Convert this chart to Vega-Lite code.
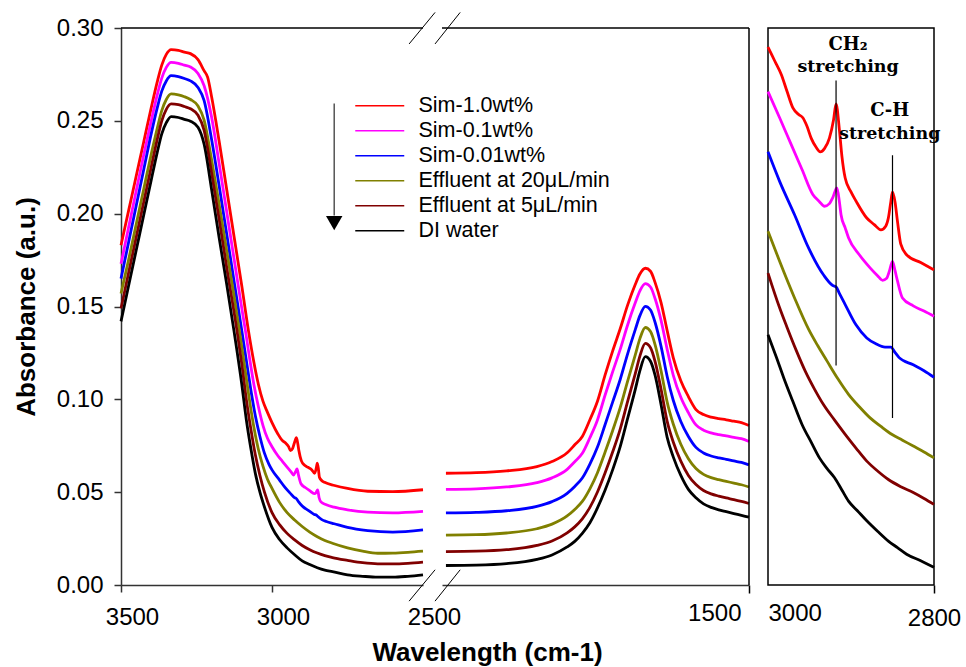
{
  "$schema": "https://vega.github.io/schema/vega-lite/v6.json",
  "padding": {"left": 13, "top": 11, "right": 2, "bottom": 2},
  "background": "white",
  "bounds": "flush",
  "spacing": 19,
  "config": {
    "font": "Liberation Sans",
    "view": {"stroke": null},
    "axis": {"labelFont": "Liberation Sans", "labelFontSize": 24, "labelColor": "black", "titleFont": "Liberation Sans", "titleFontSize": 26, "titleFontWeight": "bold", "titleColor": "black", "domainColor": "#333333", "domainWidth": 1.5, "tickColor": "#333333", "tickWidth": 1.5, "tickSize": 7, "grid": false, "labelFlush": false, "labelOverlap": false}
  },
  "resolve": {"scale": {"color": "independent"}, "legend": {"color": "independent"}},
  "datasets": {
    "main": [
      {"series":"Sim-1.0wt%","seg":"L","wn":3500,"abs":0.183},{"series":"Sim-1.0wt%","seg":"L","wn":3475,"abs":0.2015},{"series":"Sim-1.0wt%","seg":"L","wn":3450,"abs":0.22},{"series":"Sim-1.0wt%","seg":"L","wn":3425,"abs":0.2385},{"series":"Sim-1.0wt%","seg":"L","wn":3400,"abs":0.257},{"series":"Sim-1.0wt%","seg":"L","wn":3380,"abs":0.271},{"series":"Sim-1.0wt%","seg":"L","wn":3365,"abs":0.28},{"series":"Sim-1.0wt%","seg":"L","wn":3350,"abs":0.2858},{"series":"Sim-1.0wt%","seg":"L","wn":3334,"abs":0.2884},{"series":"Sim-1.0wt%","seg":"L","wn":3310,"abs":0.288},{"series":"Sim-1.0wt%","seg":"L","wn":3290,"abs":0.287},{"series":"Sim-1.0wt%","seg":"L","wn":3270,"abs":0.2862},{"series":"Sim-1.0wt%","seg":"L","wn":3245,"abs":0.283},{"series":"Sim-1.0wt%","seg":"L","wn":3225,"abs":0.277},{"series":"Sim-1.0wt%","seg":"L","wn":3213,"abs":0.2734},{"series":"Sim-1.0wt%","seg":"L","wn":3200,"abs":0.263},{"series":"Sim-1.0wt%","seg":"L","wn":3175,"abs":0.239},{"series":"Sim-1.0wt%","seg":"L","wn":3150,"abs":0.213},{"series":"Sim-1.0wt%","seg":"L","wn":3125,"abs":0.187},{"series":"Sim-1.0wt%","seg":"L","wn":3100,"abs":0.161},{"series":"Sim-1.0wt%","seg":"L","wn":3078,"abs":0.137},{"series":"Sim-1.0wt%","seg":"L","wn":3060,"abs":0.12},{"series":"Sim-1.0wt%","seg":"L","wn":3045,"abs":0.108},{"series":"Sim-1.0wt%","seg":"L","wn":3030,"abs":0.099},{"series":"Sim-1.0wt%","seg":"L","wn":3015,"abs":0.093},{"series":"Sim-1.0wt%","seg":"L","wn":3000,"abs":0.0875},{"series":"Sim-1.0wt%","seg":"L","wn":2981,"abs":0.0815},{"series":"Sim-1.0wt%","seg":"L","wn":2967,"abs":0.078},{"series":"Sim-1.0wt%","seg":"L","wn":2955,"abs":0.0765},{"series":"Sim-1.0wt%","seg":"L","wn":2945,"abs":0.0745},{"series":"Sim-1.0wt%","seg":"L","wn":2939,"abs":0.0724},{"series":"Sim-1.0wt%","seg":"L","wn":2932,"abs":0.0735},{"series":"Sim-1.0wt%","seg":"L","wn":2926,"abs":0.0765},{"series":"Sim-1.0wt%","seg":"L","wn":2919,"abs":0.0793},{"series":"Sim-1.0wt%","seg":"L","wn":2914,"abs":0.0755},{"series":"Sim-1.0wt%","seg":"L","wn":2911,"abs":0.0724},{"series":"Sim-1.0wt%","seg":"L","wn":2903,"abs":0.067},{"series":"Sim-1.0wt%","seg":"L","wn":2892,"abs":0.0645},{"series":"Sim-1.0wt%","seg":"L","wn":2881,"abs":0.0634},{"series":"Sim-1.0wt%","seg":"L","wn":2868,"abs":0.062},{"series":"Sim-1.0wt%","seg":"L","wn":2859,"abs":0.0602},{"series":"Sim-1.0wt%","seg":"L","wn":2854,"abs":0.0625},{"series":"Sim-1.0wt%","seg":"L","wn":2850,"abs":0.0656},{"series":"Sim-1.0wt%","seg":"L","wn":2846,"abs":0.062},{"series":"Sim-1.0wt%","seg":"L","wn":2843,"abs":0.058},{"series":"Sim-1.0wt%","seg":"L","wn":2835,"abs":0.0562},{"series":"Sim-1.0wt%","seg":"L","wn":2826,"abs":0.0553},{"series":"Sim-1.0wt%","seg":"L","wn":2793,"abs":0.0536},{"series":"Sim-1.0wt%","seg":"L","wn":2750,"abs":0.052},{"series":"Sim-1.0wt%","seg":"L","wn":2683,"abs":0.0505},{"series":"Sim-1.0wt%","seg":"L","wn":2600,"abs":0.0503},{"series":"Sim-1.0wt%","seg":"L","wn":2500,"abs":0.0513},
      {"series":"Sim-0.1wt%","seg":"L","wn":3500,"abs":0.173},{"series":"Sim-0.1wt%","seg":"L","wn":3475,"abs":0.1925},{"series":"Sim-0.1wt%","seg":"L","wn":3450,"abs":0.212},{"series":"Sim-0.1wt%","seg":"L","wn":3425,"abs":0.2315},{"series":"Sim-0.1wt%","seg":"L","wn":3400,"abs":0.25},{"series":"Sim-0.1wt%","seg":"L","wn":3380,"abs":0.264},{"series":"Sim-0.1wt%","seg":"L","wn":3365,"abs":0.273},{"series":"Sim-0.1wt%","seg":"L","wn":3350,"abs":0.2788},{"series":"Sim-0.1wt%","seg":"L","wn":3334,"abs":0.2815},{"series":"Sim-0.1wt%","seg":"L","wn":3310,"abs":0.281},{"series":"Sim-0.1wt%","seg":"L","wn":3290,"abs":0.28},{"series":"Sim-0.1wt%","seg":"L","wn":3270,"abs":0.279},{"series":"Sim-0.1wt%","seg":"L","wn":3245,"abs":0.2755},{"series":"Sim-0.1wt%","seg":"L","wn":3225,"abs":0.269},{"series":"Sim-0.1wt%","seg":"L","wn":3200,"abs":0.252},{"series":"Sim-0.1wt%","seg":"L","wn":3175,"abs":0.227},{"series":"Sim-0.1wt%","seg":"L","wn":3150,"abs":0.201},{"series":"Sim-0.1wt%","seg":"L","wn":3125,"abs":0.175},{"series":"Sim-0.1wt%","seg":"L","wn":3100,"abs":0.149},{"series":"Sim-0.1wt%","seg":"L","wn":3088,"abs":0.137},{"series":"Sim-0.1wt%","seg":"L","wn":3075,"abs":0.123},{"series":"Sim-0.1wt%","seg":"L","wn":3060,"abs":0.108},{"series":"Sim-0.1wt%","seg":"L","wn":3045,"abs":0.096},{"series":"Sim-0.1wt%","seg":"L","wn":3030,"abs":0.086},{"series":"Sim-0.1wt%","seg":"L","wn":3015,"abs":0.079},{"series":"Sim-0.1wt%","seg":"L","wn":3000,"abs":0.0745},{"series":"Sim-0.1wt%","seg":"L","wn":2980,"abs":0.0695},{"series":"Sim-0.1wt%","seg":"L","wn":2965,"abs":0.0665},{"series":"Sim-0.1wt%","seg":"L","wn":2950,"abs":0.0635},{"series":"Sim-0.1wt%","seg":"L","wn":2935,"abs":0.0605},{"series":"Sim-0.1wt%","seg":"L","wn":2929,"abs":0.0592},{"series":"Sim-0.1wt%","seg":"L","wn":2922,"abs":0.061},{"series":"Sim-0.1wt%","seg":"L","wn":2917,"abs":0.0625},{"series":"Sim-0.1wt%","seg":"L","wn":2912,"abs":0.059},{"series":"Sim-0.1wt%","seg":"L","wn":2904,"abs":0.0545},{"series":"Sim-0.1wt%","seg":"L","wn":2890,"abs":0.0525},{"series":"Sim-0.1wt%","seg":"L","wn":2875,"abs":0.0508},{"series":"Sim-0.1wt%","seg":"L","wn":2860,"abs":0.0492},{"series":"Sim-0.1wt%","seg":"L","wn":2854,"abs":0.0498},{"series":"Sim-0.1wt%","seg":"L","wn":2849,"abs":0.0512},{"series":"Sim-0.1wt%","seg":"L","wn":2844,"abs":0.047},{"series":"Sim-0.1wt%","seg":"L","wn":2838,"abs":0.0448},{"series":"Sim-0.1wt%","seg":"L","wn":2820,"abs":0.0432},{"series":"Sim-0.1wt%","seg":"L","wn":2794,"abs":0.0419},{"series":"Sim-0.1wt%","seg":"L","wn":2750,"abs":0.0405},{"series":"Sim-0.1wt%","seg":"L","wn":2683,"abs":0.0392},{"series":"Sim-0.1wt%","seg":"L","wn":2600,"abs":0.0388},{"series":"Sim-0.1wt%","seg":"L","wn":2500,"abs":0.0396},
      {"series":"Sim-0.01wt%","seg":"L","wn":3500,"abs":0.165},{"series":"Sim-0.01wt%","seg":"L","wn":3475,"abs":0.1845},{"series":"Sim-0.01wt%","seg":"L","wn":3450,"abs":0.204},{"series":"Sim-0.01wt%","seg":"L","wn":3425,"abs":0.2235},{"series":"Sim-0.01wt%","seg":"L","wn":3400,"abs":0.243},{"series":"Sim-0.01wt%","seg":"L","wn":3380,"abs":0.257},{"series":"Sim-0.01wt%","seg":"L","wn":3365,"abs":0.266},{"series":"Sim-0.01wt%","seg":"L","wn":3350,"abs":0.2715},{"series":"Sim-0.01wt%","seg":"L","wn":3334,"abs":0.2743},{"series":"Sim-0.01wt%","seg":"L","wn":3310,"abs":0.2738},{"series":"Sim-0.01wt%","seg":"L","wn":3290,"abs":0.2728},{"series":"Sim-0.01wt%","seg":"L","wn":3270,"abs":0.2715},{"series":"Sim-0.01wt%","seg":"L","wn":3245,"abs":0.268},{"series":"Sim-0.01wt%","seg":"L","wn":3225,"abs":0.261},{"series":"Sim-0.01wt%","seg":"L","wn":3200,"abs":0.24},{"series":"Sim-0.01wt%","seg":"L","wn":3175,"abs":0.215},{"series":"Sim-0.01wt%","seg":"L","wn":3150,"abs":0.189},{"series":"Sim-0.01wt%","seg":"L","wn":3125,"abs":0.163},{"series":"Sim-0.01wt%","seg":"L","wn":3100,"abs":0.137},{"series":"Sim-0.01wt%","seg":"L","wn":3085,"abs":0.121},{"series":"Sim-0.01wt%","seg":"L","wn":3070,"abs":0.105},{"series":"Sim-0.01wt%","seg":"L","wn":3055,"abs":0.091},{"series":"Sim-0.01wt%","seg":"L","wn":3040,"abs":0.08},{"series":"Sim-0.01wt%","seg":"L","wn":3025,"abs":0.071},{"series":"Sim-0.01wt%","seg":"L","wn":3010,"abs":0.065},{"series":"Sim-0.01wt%","seg":"L","wn":3000,"abs":0.062},{"series":"Sim-0.01wt%","seg":"L","wn":2975,"abs":0.0565},{"series":"Sim-0.01wt%","seg":"L","wn":2959,"abs":0.053},{"series":"Sim-0.01wt%","seg":"L","wn":2940,"abs":0.0495},{"series":"Sim-0.01wt%","seg":"L","wn":2925,"abs":0.047},{"series":"Sim-0.01wt%","seg":"L","wn":2921,"abs":0.0468},{"series":"Sim-0.01wt%","seg":"L","wn":2915,"abs":0.0455},{"series":"Sim-0.01wt%","seg":"L","wn":2900,"abs":0.0425},{"series":"Sim-0.01wt%","seg":"L","wn":2880,"abs":0.0402},{"series":"Sim-0.01wt%","seg":"L","wn":2860,"abs":0.038},{"series":"Sim-0.01wt%","seg":"L","wn":2853,"abs":0.0376},{"series":"Sim-0.01wt%","seg":"L","wn":2849,"abs":0.037},{"series":"Sim-0.01wt%","seg":"L","wn":2835,"abs":0.0352},{"series":"Sim-0.01wt%","seg":"L","wn":2820,"abs":0.0342},{"series":"Sim-0.01wt%","seg":"L","wn":2794,"abs":0.033},{"series":"Sim-0.01wt%","seg":"L","wn":2750,"abs":0.031},{"series":"Sim-0.01wt%","seg":"L","wn":2683,"abs":0.0293},{"series":"Sim-0.01wt%","seg":"L","wn":2600,"abs":0.0285},{"series":"Sim-0.01wt%","seg":"L","wn":2500,"abs":0.0297},
      {"series":"Effluent at 20μL/min","seg":"L","wn":3500,"abs":0.157},{"series":"Effluent at 20μL/min","seg":"L","wn":3475,"abs":0.175},{"series":"Effluent at 20μL/min","seg":"L","wn":3450,"abs":0.194},{"series":"Effluent at 20μL/min","seg":"L","wn":3425,"abs":0.213},{"series":"Effluent at 20μL/min","seg":"L","wn":3400,"abs":0.232},{"series":"Effluent at 20μL/min","seg":"L","wn":3380,"abs":0.246},{"series":"Effluent at 20μL/min","seg":"L","wn":3365,"abs":0.2555},{"series":"Effluent at 20μL/min","seg":"L","wn":3350,"abs":0.2615},{"series":"Effluent at 20μL/min","seg":"L","wn":3334,"abs":0.2645},{"series":"Effluent at 20μL/min","seg":"L","wn":3310,"abs":0.264},{"series":"Effluent at 20μL/min","seg":"L","wn":3290,"abs":0.263},{"series":"Effluent at 20μL/min","seg":"L","wn":3270,"abs":0.2615},{"series":"Effluent at 20μL/min","seg":"L","wn":3245,"abs":0.258},{"series":"Effluent at 20μL/min","seg":"L","wn":3225,"abs":0.2505},{"series":"Effluent at 20μL/min","seg":"L","wn":3200,"abs":0.229},{"series":"Effluent at 20μL/min","seg":"L","wn":3175,"abs":0.205},{"series":"Effluent at 20μL/min","seg":"L","wn":3150,"abs":0.18},{"series":"Effluent at 20μL/min","seg":"L","wn":3125,"abs":0.155},{"series":"Effluent at 20μL/min","seg":"L","wn":3108,"abs":0.137},{"series":"Effluent at 20μL/min","seg":"L","wn":3090,"abs":0.117},{"series":"Effluent at 20μL/min","seg":"L","wn":3075,"abs":0.1},{"series":"Effluent at 20μL/min","seg":"L","wn":3060,"abs":0.085},{"series":"Effluent at 20μL/min","seg":"L","wn":3045,"abs":0.073},{"series":"Effluent at 20μL/min","seg":"L","wn":3030,"abs":0.064},{"series":"Effluent at 20μL/min","seg":"L","wn":3015,"abs":0.057},{"series":"Effluent at 20μL/min","seg":"L","wn":3000,"abs":0.052},{"series":"Effluent at 20μL/min","seg":"L","wn":2975,"abs":0.0445},{"series":"Effluent at 20μL/min","seg":"L","wn":2950,"abs":0.039},{"series":"Effluent at 20μL/min","seg":"L","wn":2925,"abs":0.035},{"series":"Effluent at 20μL/min","seg":"L","wn":2900,"abs":0.0315},{"series":"Effluent at 20μL/min","seg":"L","wn":2875,"abs":0.0285},{"series":"Effluent at 20μL/min","seg":"L","wn":2850,"abs":0.026},{"series":"Effluent at 20μL/min","seg":"L","wn":2825,"abs":0.024},{"series":"Effluent at 20μL/min","seg":"L","wn":2800,"abs":0.0225},{"series":"Effluent at 20μL/min","seg":"L","wn":2750,"abs":0.02},{"series":"Effluent at 20μL/min","seg":"L","wn":2700,"abs":0.0182},{"series":"Effluent at 20μL/min","seg":"L","wn":2650,"abs":0.0171},{"series":"Effluent at 20μL/min","seg":"L","wn":2600,"abs":0.0172},{"series":"Effluent at 20μL/min","seg":"L","wn":2550,"abs":0.0176},{"series":"Effluent at 20μL/min","seg":"L","wn":2500,"abs":0.0182},
      {"series":"Effluent at 5μL/min","seg":"L","wn":3500,"abs":0.149},{"series":"Effluent at 5μL/min","seg":"L","wn":3475,"abs":0.168},{"series":"Effluent at 5μL/min","seg":"L","wn":3450,"abs":0.187},{"series":"Effluent at 5μL/min","seg":"L","wn":3425,"abs":0.206},{"series":"Effluent at 5μL/min","seg":"L","wn":3400,"abs":0.225},{"series":"Effluent at 5μL/min","seg":"L","wn":3380,"abs":0.24},{"series":"Effluent at 5μL/min","seg":"L","wn":3365,"abs":0.25},{"series":"Effluent at 5μL/min","seg":"L","wn":3350,"abs":0.2562},{"series":"Effluent at 5μL/min","seg":"L","wn":3334,"abs":0.2591},{"series":"Effluent at 5μL/min","seg":"L","wn":3310,"abs":0.2587},{"series":"Effluent at 5μL/min","seg":"L","wn":3290,"abs":0.2577},{"series":"Effluent at 5μL/min","seg":"L","wn":3270,"abs":0.2565},{"series":"Effluent at 5μL/min","seg":"L","wn":3245,"abs":0.253},{"series":"Effluent at 5μL/min","seg":"L","wn":3225,"abs":0.245},{"series":"Effluent at 5μL/min","seg":"L","wn":3200,"abs":0.222},{"series":"Effluent at 5μL/min","seg":"L","wn":3175,"abs":0.197},{"series":"Effluent at 5μL/min","seg":"L","wn":3150,"abs":0.171},{"series":"Effluent at 5μL/min","seg":"L","wn":3116,"abs":0.137},{"series":"Effluent at 5μL/min","seg":"L","wn":3100,"abs":0.119},{"series":"Effluent at 5μL/min","seg":"L","wn":3085,"abs":0.1},{"series":"Effluent at 5μL/min","seg":"L","wn":3070,"abs":0.084},{"series":"Effluent at 5μL/min","seg":"L","wn":3055,"abs":0.07},{"series":"Effluent at 5μL/min","seg":"L","wn":3040,"abs":0.059},{"series":"Effluent at 5μL/min","seg":"L","wn":3025,"abs":0.05},{"series":"Effluent at 5μL/min","seg":"L","wn":3000,"abs":0.039},{"series":"Effluent at 5μL/min","seg":"L","wn":2975,"abs":0.0325},{"series":"Effluent at 5μL/min","seg":"L","wn":2950,"abs":0.0278},{"series":"Effluent at 5μL/min","seg":"L","wn":2925,"abs":0.0243},{"series":"Effluent at 5μL/min","seg":"L","wn":2900,"abs":0.0213},{"series":"Effluent at 5μL/min","seg":"L","wn":2875,"abs":0.019},{"series":"Effluent at 5μL/min","seg":"L","wn":2850,"abs":0.0172},{"series":"Effluent at 5μL/min","seg":"L","wn":2825,"abs":0.0158},{"series":"Effluent at 5μL/min","seg":"L","wn":2800,"abs":0.0148},{"series":"Effluent at 5μL/min","seg":"L","wn":2750,"abs":0.0133},{"series":"Effluent at 5μL/min","seg":"L","wn":2700,"abs":0.012},{"series":"Effluent at 5μL/min","seg":"L","wn":2650,"abs":0.0114},{"series":"Effluent at 5μL/min","seg":"L","wn":2600,"abs":0.0114},{"series":"Effluent at 5μL/min","seg":"L","wn":2550,"abs":0.0117},{"series":"Effluent at 5μL/min","seg":"L","wn":2500,"abs":0.0123},
      {"series":"DI water","seg":"L","wn":3500,"abs":0.142},{"series":"DI water","seg":"L","wn":3475,"abs":0.161},{"series":"DI water","seg":"L","wn":3450,"abs":0.18},{"series":"DI water","seg":"L","wn":3425,"abs":0.199},{"series":"DI water","seg":"L","wn":3400,"abs":0.218},{"series":"DI water","seg":"L","wn":3380,"abs":0.233},{"series":"DI water","seg":"L","wn":3365,"abs":0.243},{"series":"DI water","seg":"L","wn":3350,"abs":0.249},{"series":"DI water","seg":"L","wn":3334,"abs":0.2523},{"series":"DI water","seg":"L","wn":3310,"abs":0.2518},{"series":"DI water","seg":"L","wn":3290,"abs":0.2508},{"series":"DI water","seg":"L","wn":3270,"abs":0.2498},{"series":"DI water","seg":"L","wn":3245,"abs":0.2465},{"series":"DI water","seg":"L","wn":3225,"abs":0.2375},{"series":"DI water","seg":"L","wn":3200,"abs":0.213},{"series":"DI water","seg":"L","wn":3175,"abs":0.187},{"series":"DI water","seg":"L","wn":3150,"abs":0.162},{"series":"DI water","seg":"L","wn":3126,"abs":0.137},{"series":"DI water","seg":"L","wn":3100,"abs":0.108},{"series":"DI water","seg":"L","wn":3085,"abs":0.089},{"series":"DI water","seg":"L","wn":3070,"abs":0.0735},{"series":"DI water","seg":"L","wn":3055,"abs":0.06},{"series":"DI water","seg":"L","wn":3040,"abs":0.05},{"series":"DI water","seg":"L","wn":3025,"abs":0.042},{"series":"DI water","seg":"L","wn":3000,"abs":0.031},{"series":"DI water","seg":"L","wn":2975,"abs":0.0245},{"series":"DI water","seg":"L","wn":2950,"abs":0.02},{"series":"DI water","seg":"L","wn":2925,"abs":0.0163},{"series":"DI water","seg":"L","wn":2900,"abs":0.013},{"series":"DI water","seg":"L","wn":2875,"abs":0.011},{"series":"DI water","seg":"L","wn":2850,"abs":0.0093},{"series":"DI water","seg":"L","wn":2825,"abs":0.008},{"series":"DI water","seg":"L","wn":2800,"abs":0.0072},{"series":"DI water","seg":"L","wn":2750,"abs":0.0055},{"series":"DI water","seg":"L","wn":2700,"abs":0.0047},{"series":"DI water","seg":"L","wn":2650,"abs":0.0042},{"series":"DI water","seg":"L","wn":2600,"abs":0.0042},{"series":"DI water","seg":"L","wn":2550,"abs":0.0047},{"series":"DI water","seg":"L","wn":2500,"abs":0.0055},
      {"series":"Sim-1.0wt%","seg":"R","wn":2500,"abs":0.0602},{"series":"Sim-1.0wt%","seg":"R","wn":2400,"abs":0.0605},{"series":"Sim-1.0wt%","seg":"R","wn":2300,"abs":0.0615},{"series":"Sim-1.0wt%","seg":"R","wn":2200,"abs":0.0638},{"series":"Sim-1.0wt%","seg":"R","wn":2150,"abs":0.0665},{"series":"Sim-1.0wt%","seg":"R","wn":2100,"abs":0.0712},{"series":"Sim-1.0wt%","seg":"R","wn":2075,"abs":0.0755},{"series":"Sim-1.0wt%","seg":"R","wn":2050,"abs":0.08},{"series":"Sim-1.0wt%","seg":"R","wn":2025,"abs":0.089},{"series":"Sim-1.0wt%","seg":"R","wn":2000,"abs":0.099},{"series":"Sim-1.0wt%","seg":"R","wn":1975,"abs":0.113},{"series":"Sim-1.0wt%","seg":"R","wn":1950,"abs":0.126},{"series":"Sim-1.0wt%","seg":"R","wn":1925,"abs":0.138},{"series":"Sim-1.0wt%","seg":"R","wn":1900,"abs":0.151},{"series":"Sim-1.0wt%","seg":"R","wn":1875,"abs":0.162},{"series":"Sim-1.0wt%","seg":"R","wn":1860,"abs":0.1675},{"series":"Sim-1.0wt%","seg":"R","wn":1842,"abs":0.1706},{"series":"Sim-1.0wt%","seg":"R","wn":1825,"abs":0.169},{"series":"Sim-1.0wt%","seg":"R","wn":1810,"abs":0.163},{"series":"Sim-1.0wt%","seg":"R","wn":1790,"abs":0.152},{"series":"Sim-1.0wt%","seg":"R","wn":1770,"abs":0.137},{"series":"Sim-1.0wt%","seg":"R","wn":1750,"abs":0.1225},{"series":"Sim-1.0wt%","seg":"R","wn":1725,"abs":0.11},{"series":"Sim-1.0wt%","seg":"R","wn":1700,"abs":0.1015},{"series":"Sim-1.0wt%","seg":"R","wn":1675,"abs":0.0945},{"series":"Sim-1.0wt%","seg":"R","wn":1650,"abs":0.0918},{"series":"Sim-1.0wt%","seg":"R","wn":1625,"abs":0.0904},{"series":"Sim-1.0wt%","seg":"R","wn":1600,"abs":0.0896},{"series":"Sim-1.0wt%","seg":"R","wn":1575,"abs":0.089},{"series":"Sim-1.0wt%","seg":"R","wn":1550,"abs":0.0882},{"series":"Sim-1.0wt%","seg":"R","wn":1525,"abs":0.0875},{"series":"Sim-1.0wt%","seg":"R","wn":1500,"abs":0.0859},
      {"series":"Sim-0.1wt%","seg":"R","wn":2500,"abs":0.0515},{"series":"Sim-0.1wt%","seg":"R","wn":2400,"abs":0.0518},{"series":"Sim-0.1wt%","seg":"R","wn":2300,"abs":0.0528},{"series":"Sim-0.1wt%","seg":"R","wn":2200,"abs":0.0551},{"series":"Sim-0.1wt%","seg":"R","wn":2150,"abs":0.0577},{"series":"Sim-0.1wt%","seg":"R","wn":2100,"abs":0.0623},{"series":"Sim-0.1wt%","seg":"R","wn":2075,"abs":0.0664},{"series":"Sim-0.1wt%","seg":"R","wn":2050,"abs":0.0709},{"series":"Sim-0.1wt%","seg":"R","wn":2025,"abs":0.0793},{"series":"Sim-0.1wt%","seg":"R","wn":2000,"abs":0.0889},{"series":"Sim-0.1wt%","seg":"R","wn":1975,"abs":0.1022},{"series":"Sim-0.1wt%","seg":"R","wn":1950,"abs":0.1148},{"series":"Sim-0.1wt%","seg":"R","wn":1925,"abs":0.1269},{"series":"Sim-0.1wt%","seg":"R","wn":1900,"abs":0.1403},{"series":"Sim-0.1wt%","seg":"R","wn":1875,"abs":0.1521},{"series":"Sim-0.1wt%","seg":"R","wn":1860,"abs":0.1584},{"series":"Sim-0.1wt%","seg":"R","wn":1842,"abs":0.1623},{"series":"Sim-0.1wt%","seg":"R","wn":1825,"abs":0.1605},{"series":"Sim-0.1wt%","seg":"R","wn":1810,"abs":0.1543},{"series":"Sim-0.1wt%","seg":"R","wn":1790,"abs":0.1424},{"series":"Sim-0.1wt%","seg":"R","wn":1770,"abs":0.1269},{"series":"Sim-0.1wt%","seg":"R","wn":1750,"abs":0.1131},{"series":"Sim-0.1wt%","seg":"R","wn":1725,"abs":0.1011},{"series":"Sim-0.1wt%","seg":"R","wn":1700,"abs":0.0928},{"series":"Sim-0.1wt%","seg":"R","wn":1675,"abs":0.0862},{"series":"Sim-0.1wt%","seg":"R","wn":1650,"abs":0.0834},{"series":"Sim-0.1wt%","seg":"R","wn":1625,"abs":0.0819},{"series":"Sim-0.1wt%","seg":"R","wn":1600,"abs":0.081},{"series":"Sim-0.1wt%","seg":"R","wn":1575,"abs":0.0803},{"series":"Sim-0.1wt%","seg":"R","wn":1550,"abs":0.0795},{"series":"Sim-0.1wt%","seg":"R","wn":1525,"abs":0.0788},{"series":"Sim-0.1wt%","seg":"R","wn":1500,"abs":0.0773},
      {"series":"Sim-0.01wt%","seg":"R","wn":2500,"abs":0.0388},{"series":"Sim-0.01wt%","seg":"R","wn":2400,"abs":0.0391},{"series":"Sim-0.01wt%","seg":"R","wn":2300,"abs":0.04},{"series":"Sim-0.01wt%","seg":"R","wn":2200,"abs":0.0423},{"series":"Sim-0.01wt%","seg":"R","wn":2150,"abs":0.0449},{"series":"Sim-0.01wt%","seg":"R","wn":2100,"abs":0.0494},{"series":"Sim-0.01wt%","seg":"R","wn":2075,"abs":0.0531},{"series":"Sim-0.01wt%","seg":"R","wn":2050,"abs":0.0576},{"series":"Sim-0.01wt%","seg":"R","wn":2025,"abs":0.0651},{"series":"Sim-0.01wt%","seg":"R","wn":2000,"abs":0.0743},{"series":"Sim-0.01wt%","seg":"R","wn":1975,"abs":0.0863},{"series":"Sim-0.01wt%","seg":"R","wn":1950,"abs":0.0985},{"series":"Sim-0.01wt%","seg":"R","wn":1925,"abs":0.1107},{"series":"Sim-0.01wt%","seg":"R","wn":1900,"abs":0.1248},{"series":"Sim-0.01wt%","seg":"R","wn":1875,"abs":0.1377},{"series":"Sim-0.01wt%","seg":"R","wn":1860,"abs":0.1451},{"series":"Sim-0.01wt%","seg":"R","wn":1842,"abs":0.1501},{"series":"Sim-0.01wt%","seg":"R","wn":1825,"abs":0.1481},{"series":"Sim-0.01wt%","seg":"R","wn":1810,"abs":0.1415},{"series":"Sim-0.01wt%","seg":"R","wn":1790,"abs":0.1284},{"series":"Sim-0.01wt%","seg":"R","wn":1770,"abs":0.1123},{"series":"Sim-0.01wt%","seg":"R","wn":1750,"abs":0.0995},{"series":"Sim-0.01wt%","seg":"R","wn":1725,"abs":0.0881},{"series":"Sim-0.01wt%","seg":"R","wn":1700,"abs":0.08},{"series":"Sim-0.01wt%","seg":"R","wn":1675,"abs":0.0741},{"series":"Sim-0.01wt%","seg":"R","wn":1650,"abs":0.0711},{"series":"Sim-0.01wt%","seg":"R","wn":1625,"abs":0.0695},{"series":"Sim-0.01wt%","seg":"R","wn":1600,"abs":0.0685},{"series":"Sim-0.01wt%","seg":"R","wn":1575,"abs":0.0677},{"series":"Sim-0.01wt%","seg":"R","wn":1550,"abs":0.0668},{"series":"Sim-0.01wt%","seg":"R","wn":1525,"abs":0.066},{"series":"Sim-0.01wt%","seg":"R","wn":1500,"abs":0.0647},
      {"series":"Effluent at 20μL/min","seg":"R","wn":2500,"abs":0.0269},{"series":"Effluent at 20μL/min","seg":"R","wn":2400,"abs":0.0271},{"series":"Effluent at 20μL/min","seg":"R","wn":2300,"abs":0.028},{"series":"Effluent at 20μL/min","seg":"R","wn":2200,"abs":0.0303},{"series":"Effluent at 20μL/min","seg":"R","wn":2150,"abs":0.0328},{"series":"Effluent at 20μL/min","seg":"R","wn":2100,"abs":0.0372},{"series":"Effluent at 20μL/min","seg":"R","wn":2075,"abs":0.0407},{"series":"Effluent at 20μL/min","seg":"R","wn":2050,"abs":0.045},{"series":"Effluent at 20μL/min","seg":"R","wn":2025,"abs":0.0518},{"series":"Effluent at 20μL/min","seg":"R","wn":2000,"abs":0.0605},{"series":"Effluent at 20μL/min","seg":"R","wn":1975,"abs":0.0715},{"series":"Effluent at 20μL/min","seg":"R","wn":1950,"abs":0.0831},{"series":"Effluent at 20μL/min","seg":"R","wn":1925,"abs":0.0955},{"series":"Effluent at 20μL/min","seg":"R","wn":1900,"abs":0.1101},{"series":"Effluent at 20μL/min","seg":"R","wn":1875,"abs":0.1241},{"series":"Effluent at 20μL/min","seg":"R","wn":1860,"abs":0.1327},{"series":"Effluent at 20μL/min","seg":"R","wn":1842,"abs":0.1387},{"series":"Effluent at 20μL/min","seg":"R","wn":1825,"abs":0.1365},{"series":"Effluent at 20μL/min","seg":"R","wn":1810,"abs":0.1295},{"series":"Effluent at 20μL/min","seg":"R","wn":1790,"abs":0.1152},{"series":"Effluent at 20μL/min","seg":"R","wn":1770,"abs":0.0985},{"series":"Effluent at 20μL/min","seg":"R","wn":1750,"abs":0.0867},{"series":"Effluent at 20μL/min","seg":"R","wn":1725,"abs":0.0758},{"series":"Effluent at 20μL/min","seg":"R","wn":1700,"abs":0.068},{"series":"Effluent at 20μL/min","seg":"R","wn":1675,"abs":0.0627},{"series":"Effluent at 20μL/min","seg":"R","wn":1650,"abs":0.0596},{"series":"Effluent at 20μL/min","seg":"R","wn":1625,"abs":0.0578},{"series":"Effluent at 20μL/min","seg":"R","wn":1600,"abs":0.0567},{"series":"Effluent at 20μL/min","seg":"R","wn":1575,"abs":0.0558},{"series":"Effluent at 20μL/min","seg":"R","wn":1550,"abs":0.0549},{"series":"Effluent at 20μL/min","seg":"R","wn":1525,"abs":0.054},{"series":"Effluent at 20μL/min","seg":"R","wn":1500,"abs":0.0528},
      {"series":"Effluent at 5μL/min","seg":"R","wn":2500,"abs":0.018},{"series":"Effluent at 5μL/min","seg":"R","wn":2400,"abs":0.0182},{"series":"Effluent at 5μL/min","seg":"R","wn":2300,"abs":0.019},{"series":"Effluent at 5μL/min","seg":"R","wn":2200,"abs":0.0213},{"series":"Effluent at 5μL/min","seg":"R","wn":2150,"abs":0.0237},{"series":"Effluent at 5μL/min","seg":"R","wn":2100,"abs":0.0281},{"series":"Effluent at 5μL/min","seg":"R","wn":2075,"abs":0.0313},{"series":"Effluent at 5μL/min","seg":"R","wn":2050,"abs":0.0356},{"series":"Effluent at 5μL/min","seg":"R","wn":2025,"abs":0.0418},{"series":"Effluent at 5μL/min","seg":"R","wn":2000,"abs":0.0501},{"series":"Effluent at 5μL/min","seg":"R","wn":1975,"abs":0.0603},{"series":"Effluent at 5μL/min","seg":"R","wn":1950,"abs":0.0716},{"series":"Effluent at 5μL/min","seg":"R","wn":1925,"abs":0.084},{"series":"Effluent at 5μL/min","seg":"R","wn":1900,"abs":0.0992},{"series":"Effluent at 5μL/min","seg":"R","wn":1875,"abs":0.114},{"series":"Effluent at 5μL/min","seg":"R","wn":1860,"abs":0.1233},{"series":"Effluent at 5μL/min","seg":"R","wn":1842,"abs":0.1301},{"series":"Effluent at 5μL/min","seg":"R","wn":1825,"abs":0.1278},{"series":"Effluent at 5μL/min","seg":"R","wn":1810,"abs":0.1205},{"series":"Effluent at 5μL/min","seg":"R","wn":1790,"abs":0.1053},{"series":"Effluent at 5μL/min","seg":"R","wn":1770,"abs":0.0881},{"series":"Effluent at 5μL/min","seg":"R","wn":1750,"abs":0.077},{"series":"Effluent at 5μL/min","seg":"R","wn":1725,"abs":0.0667},{"series":"Effluent at 5μL/min","seg":"R","wn":1700,"abs":0.059},{"series":"Effluent at 5μL/min","seg":"R","wn":1675,"abs":0.0541},{"series":"Effluent at 5μL/min","seg":"R","wn":1650,"abs":0.0509},{"series":"Effluent at 5μL/min","seg":"R","wn":1625,"abs":0.0491},{"series":"Effluent at 5μL/min","seg":"R","wn":1600,"abs":0.0479},{"series":"Effluent at 5μL/min","seg":"R","wn":1575,"abs":0.0469},{"series":"Effluent at 5μL/min","seg":"R","wn":1550,"abs":0.046},{"series":"Effluent at 5μL/min","seg":"R","wn":1525,"abs":0.045},{"series":"Effluent at 5μL/min","seg":"R","wn":1500,"abs":0.0439},
      {"series":"DI water","seg":"R","wn":2500,"abs":0.0105},{"series":"DI water","seg":"R","wn":2400,"abs":0.0107},{"series":"DI water","seg":"R","wn":2300,"abs":0.0115},{"series":"DI water","seg":"R","wn":2200,"abs":0.0138},{"series":"DI water","seg":"R","wn":2150,"abs":0.0162},{"series":"DI water","seg":"R","wn":2100,"abs":0.0205},{"series":"DI water","seg":"R","wn":2075,"abs":0.0235},{"series":"DI water","seg":"R","wn":2050,"abs":0.0278},{"series":"DI water","seg":"R","wn":2025,"abs":0.0335},{"series":"DI water","seg":"R","wn":2000,"abs":0.0415},{"series":"DI water","seg":"R","wn":1975,"abs":0.051},{"series":"DI water","seg":"R","wn":1950,"abs":0.062},{"series":"DI water","seg":"R","wn":1925,"abs":0.0745},{"series":"DI water","seg":"R","wn":1900,"abs":0.09},{"series":"DI water","seg":"R","wn":1875,"abs":0.1055},{"series":"DI water","seg":"R","wn":1860,"abs":0.1155},{"series":"DI water","seg":"R","wn":1842,"abs":0.123},{"series":"DI water","seg":"R","wn":1825,"abs":0.1205},{"series":"DI water","seg":"R","wn":1810,"abs":0.113},{"series":"DI water","seg":"R","wn":1790,"abs":0.097},{"series":"DI water","seg":"R","wn":1770,"abs":0.0795},{"series":"DI water","seg":"R","wn":1750,"abs":0.069},{"series":"DI water","seg":"R","wn":1725,"abs":0.059},{"series":"DI water","seg":"R","wn":1700,"abs":0.0515},{"series":"DI water","seg":"R","wn":1675,"abs":0.047},{"series":"DI water","seg":"R","wn":1650,"abs":0.0437},{"series":"DI water","seg":"R","wn":1625,"abs":0.0418},{"series":"DI water","seg":"R","wn":1600,"abs":0.0405},{"series":"DI water","seg":"R","wn":1575,"abs":0.0395},{"series":"DI water","seg":"R","wn":1550,"abs":0.0385},{"series":"DI water","seg":"R","wn":1525,"abs":0.0375},{"series":"DI water","seg":"R","wn":1500,"abs":0.0365}
    ],
    "inset": [
      {"series":"Sim-1.0wt%","wn":3000,"abs":0.0871},{"series":"Sim-1.0wt%","wn":2992,"abs":0.085},{"series":"Sim-1.0wt%","wn":2984,"abs":0.0829},{"series":"Sim-1.0wt%","wn":2977,"abs":0.0803},{"series":"Sim-1.0wt%","wn":2970,"abs":0.0778},{"series":"Sim-1.0wt%","wn":2963,"abs":0.0768},{"series":"Sim-1.0wt%","wn":2958,"abs":0.0763},{"series":"Sim-1.0wt%","wn":2953,"abs":0.075},{"series":"Sim-1.0wt%","wn":2948,"abs":0.0732},{"series":"Sim-1.0wt%","wn":2942,"abs":0.0718},{"series":"Sim-1.0wt%","wn":2937,"abs":0.0711},{"series":"Sim-1.0wt%","wn":2932,"abs":0.0716},{"series":"Sim-1.0wt%","wn":2926,"abs":0.0732},{"series":"Sim-1.0wt%","wn":2921,"abs":0.076},{"series":"Sim-1.0wt%","wn":2918,"abs":0.0784},{"series":"Sim-1.0wt%","wn":2914,"abs":0.0745},{"series":"Sim-1.0wt%","wn":2911,"abs":0.0705},{"series":"Sim-1.0wt%","wn":2907,"abs":0.0671},{"series":"Sim-1.0wt%","wn":2900,"abs":0.065},{"series":"Sim-1.0wt%","wn":2894,"abs":0.0636},{"series":"Sim-1.0wt%","wn":2881,"abs":0.061},{"series":"Sim-1.0wt%","wn":2872,"abs":0.06},{"series":"Sim-1.0wt%","wn":2864,"abs":0.0592},{"series":"Sim-1.0wt%","wn":2858,"abs":0.0598},{"series":"Sim-1.0wt%","wn":2855,"abs":0.061},{"series":"Sim-1.0wt%","wn":2852,"abs":0.0635},{"series":"Sim-1.0wt%","wn":2850,"abs":0.065},{"series":"Sim-1.0wt%","wn":2847,"abs":0.0635},{"series":"Sim-1.0wt%","wn":2844,"abs":0.0605},{"series":"Sim-1.0wt%","wn":2840,"abs":0.057},{"series":"Sim-1.0wt%","wn":2833,"abs":0.0554},{"series":"Sim-1.0wt%","wn":2816,"abs":0.0542},{"series":"Sim-1.0wt%","wn":2800,"abs":0.0531},
      {"series":"Sim-0.1wt%","wn":3000,"abs":0.0803},{"series":"Sim-0.1wt%","wn":2986,"abs":0.0763},{"series":"Sim-0.1wt%","wn":2972,"abs":0.0722},{"series":"Sim-0.1wt%","wn":2959,"abs":0.0684},{"series":"Sim-0.1wt%","wn":2946,"abs":0.0646},{"series":"Sim-0.1wt%","wn":2938,"abs":0.0635},{"series":"Sim-0.1wt%","wn":2932,"abs":0.0628},{"series":"Sim-0.1wt%","wn":2926,"abs":0.0632},{"series":"Sim-0.1wt%","wn":2922,"abs":0.0641},{"series":"Sim-0.1wt%","wn":2917,"abs":0.0656},{"series":"Sim-0.1wt%","wn":2914,"abs":0.0635},{"series":"Sim-0.1wt%","wn":2912,"abs":0.0615},{"series":"Sim-0.1wt%","wn":2907,"abs":0.0595},{"series":"Sim-0.1wt%","wn":2903,"abs":0.058},{"series":"Sim-0.1wt%","wn":2890,"abs":0.0554},{"series":"Sim-0.1wt%","wn":2877,"abs":0.0534},{"series":"Sim-0.1wt%","wn":2868,"abs":0.0522},{"series":"Sim-0.1wt%","wn":2862,"abs":0.0515},{"series":"Sim-0.1wt%","wn":2857,"abs":0.0518},{"series":"Sim-0.1wt%","wn":2854,"abs":0.0528},{"series":"Sim-0.1wt%","wn":2850,"abs":0.0544},{"series":"Sim-0.1wt%","wn":2847,"abs":0.053},{"series":"Sim-0.1wt%","wn":2844,"abs":0.0514},{"series":"Sim-0.1wt%","wn":2838,"abs":0.0488},{"series":"Sim-0.1wt%","wn":2825,"abs":0.0476},{"series":"Sim-0.1wt%","wn":2812,"abs":0.0468},{"series":"Sim-0.1wt%","wn":2800,"abs":0.046},
      {"series":"Sim-0.01wt%","wn":3000,"abs":0.0711},{"series":"Sim-0.01wt%","wn":2986,"abs":0.0666},{"series":"Sim-0.01wt%","wn":2968,"abs":0.0615},{"series":"Sim-0.01wt%","wn":2951,"abs":0.0564},{"series":"Sim-0.01wt%","wn":2933,"abs":0.0523},{"series":"Sim-0.01wt%","wn":2922,"abs":0.0507},{"series":"Sim-0.01wt%","wn":2918,"abs":0.0505},{"series":"Sim-0.01wt%","wn":2914,"abs":0.0495},{"series":"Sim-0.01wt%","wn":2907,"abs":0.0478},{"series":"Sim-0.01wt%","wn":2894,"abs":0.0447},{"series":"Sim-0.01wt%","wn":2881,"abs":0.0427},{"series":"Sim-0.01wt%","wn":2870,"abs":0.0418},{"series":"Sim-0.01wt%","wn":2859,"abs":0.0413},{"series":"Sim-0.01wt%","wn":2852,"abs":0.0413},{"series":"Sim-0.01wt%","wn":2847,"abs":0.0405},{"series":"Sim-0.01wt%","wn":2842,"abs":0.0397},{"series":"Sim-0.01wt%","wn":2825,"abs":0.0386},{"series":"Sim-0.01wt%","wn":2812,"abs":0.0377},{"series":"Sim-0.01wt%","wn":2800,"abs":0.0367},
      {"series":"Effluent at 20μL/min","wn":3000,"abs":0.059},{"series":"Effluent at 20μL/min","wn":2986,"abs":0.0544},{"series":"Effluent at 20μL/min","wn":2968,"abs":0.0488},{"series":"Effluent at 20μL/min","wn":2951,"abs":0.044},{"series":"Effluent at 20μL/min","wn":2940,"abs":0.0415},{"series":"Effluent at 20μL/min","wn":2929,"abs":0.0392},{"series":"Effluent at 20μL/min","wn":2916,"abs":0.0365},{"series":"Effluent at 20μL/min","wn":2903,"abs":0.0341},{"series":"Effluent at 20μL/min","wn":2890,"abs":0.0322},{"series":"Effluent at 20μL/min","wn":2877,"abs":0.0305},{"series":"Effluent at 20μL/min","wn":2864,"abs":0.0292},{"series":"Effluent at 20μL/min","wn":2851,"abs":0.028},{"series":"Effluent at 20μL/min","wn":2838,"abs":0.0271},{"series":"Effluent at 20μL/min","wn":2825,"abs":0.0262},{"series":"Effluent at 20μL/min","wn":2812,"abs":0.0253},{"series":"Effluent at 20μL/min","wn":2800,"abs":0.0244},
      {"series":"Effluent at 5μL/min","wn":3000,"abs":0.0526},{"series":"Effluent at 5μL/min","wn":2986,"abs":0.0473},{"series":"Effluent at 5μL/min","wn":2977,"abs":0.0443},{"series":"Effluent at 5μL/min","wn":2966,"abs":0.0408},{"series":"Effluent at 5μL/min","wn":2955,"abs":0.0376},{"series":"Effluent at 5μL/min","wn":2944,"abs":0.0349},{"series":"Effluent at 5μL/min","wn":2933,"abs":0.0325},{"series":"Effluent at 5μL/min","wn":2920,"abs":0.0302},{"series":"Effluent at 5μL/min","wn":2907,"abs":0.028},{"series":"Effluent at 5μL/min","wn":2894,"abs":0.0259},{"series":"Effluent at 5μL/min","wn":2881,"abs":0.0239},{"series":"Effluent at 5μL/min","wn":2868,"abs":0.0224},{"series":"Effluent at 5μL/min","wn":2855,"abs":0.0211},{"series":"Effluent at 5μL/min","wn":2840,"abs":0.02},{"series":"Effluent at 5μL/min","wn":2825,"abs":0.0191},{"series":"Effluent at 5μL/min","wn":2812,"abs":0.0182},{"series":"Effluent at 5μL/min","wn":2800,"abs":0.0173},
      {"series":"DI water","wn":3000,"abs":0.0432},{"series":"DI water","wn":2990,"abs":0.0398},{"series":"DI water","wn":2981,"abs":0.0366},{"series":"DI water","wn":2970,"abs":0.033},{"series":"DI water","wn":2959,"abs":0.0295},{"series":"DI water","wn":2948,"abs":0.0268},{"series":"DI water","wn":2938,"abs":0.0244},{"series":"DI water","wn":2929,"abs":0.0228},{"series":"DI water","wn":2920,"abs":0.0214},{"series":"DI water","wn":2911,"abs":0.0195},{"series":"DI water","wn":2903,"abs":0.0178},{"series":"DI water","wn":2892,"abs":0.0163},{"series":"DI water","wn":2881,"abs":0.0148},{"series":"DI water","wn":2868,"abs":0.0132},{"series":"DI water","wn":2855,"abs":0.0117},{"series":"DI water","wn":2844,"abs":0.0107},{"series":"DI water","wn":2833,"abs":0.0097},{"series":"DI water","wn":2816,"abs":0.0087},{"series":"DI water","wn":2800,"abs":0.0077}
    ]
  },
  "hconcat": [
    {
      "width": 302,
      "height": 557,
      "layer": [
        {
          "data": {"name": "main"},
          "transform": [{"filter": "datum.seg == 'L'"}],
          "mark": {"type": "line", "strokeWidth": 2.8, "interpolate": "monotone"},
          "encoding": {
            "x": {"field": "wn", "type": "quantitative", "scale": {"domain": [2500, 3500], "reverse": true, "nice": false, "zero": false},
              "axis": {"values": [3500, 3000, 2500], "format": "d", "title": "Wavelength (cm-1)", "labelOffset": 11, "labelPadding": 13,
                "tickColor": {"condition": {"test": "datum.value == 2500", "value": "transparent"}, "value": "#333333"},
                "titleX": 366, "titleY": 75, "titleAlign": "center", "titleBaseline": "alphabetic", "titleAnchor": null}},
            "y": {"field": "abs", "type": "quantitative", "scale": {"domain": [0, 0.3], "nice": false, "zero": false},
              "axis": {"values": [0, 0.05, 0.1, 0.15, 0.2, 0.25, 0.3], "format": ".2f", "title": "Absorbance (a.u.)", "labelPadding": 11,
                "titleX": -87, "titleY": 278.5, "titleAngle": 270, "titleAlign": "center", "titleBaseline": "alphabetic"}},
            "color": {"field": "series", "type": "nominal",
              "scale": {"domain": ["Sim-1.0wt%", "Sim-0.1wt%", "Sim-0.01wt%", "Effluent at 20μL/min", "Effluent at 5μL/min", "DI water"], "range": ["#ff0000", "#ff00ff", "#0000ff", "#808000", "#800000", "#000000"]},
              "legend": {"orient": "none", "legendX": 248, "legendY": 67, "title": null, "symbolType": "M-5,0H5", "symbolSize": 96, "symbolStrokeWidth": 1.5, "labelFontSize": 21.5, "labelFont": "Liberation Sans", "labelColor": "black", "labelOffset": 28, "labelLimit": 400, "rowPadding": 2, "padding": 0}},
            "order": {"field": "wn", "sort": "descending"}
          }
        },
        {"data": {"values": [{}]}, "mark": {"type": "rule", "color": "black", "strokeWidth": 1.5}, "encoding": {"y": {"datum": 0.3}}},
        {"data": {"values": [{}]}, "mark": {"type": "rule", "color": "black", "strokeWidth": 1}, "encoding": {"x": {"datum": 2546}, "x2": {"datum": 2460}, "y": {"datum": 0.2914}, "y2": {"datum": 0.3084}}},
        {"data": {"values": [{}]}, "mark": {"type": "rule", "color": "black", "strokeWidth": 1}, "encoding": {"x": {"datum": 2546}, "x2": {"datum": 2460}, "y": {"datum": -0.0087}, "y2": {"datum": 0.0082}}},
        {"data": {"values": [{}]}, "mark": {"type": "rule", "color": "#555555", "strokeWidth": 1.5}, "encoding": {"x": {"datum": 2794}, "y": {"datum": 0.2594}, "y2": {"datum": 0.199}}},
        {"data": {"values": [{}]}, "mark": {"type": "point", "shape": "triangle-down", "filled": true, "color": "black", "size": 270, "opacity": 1}, "encoding": {"x": {"datum": 2794}, "y": {"datum": 0.1949}}}
      ]
    },
    {
      "width": 307,
      "height": 557,
      "layer": [
        {
          "data": {"name": "main"},
          "transform": [{"filter": "datum.seg == 'R'"}],
          "mark": {"type": "line", "strokeWidth": 2.8, "interpolate": "monotone"},
          "encoding": {
            "x": {"field": "wn", "type": "quantitative", "scale": {"domain": [1500, 2513], "reverse": true, "nice": false, "zero": false},
              "axis": {"values": [1500], "format": "d", "title": null, "labelAlign": "right", "labelOffset": -8, "labelPadding": 8, "tickSize": 8, "tickColor": "black"}},
            "y": {"field": "abs", "type": "quantitative", "scale": {"domain": [0, 0.3], "nice": false, "zero": false}, "axis": null},
            "color": {"field": "series", "type": "nominal",
              "scale": {"domain": ["Sim-1.0wt%", "Sim-0.1wt%", "Sim-0.01wt%", "Effluent at 20μL/min", "Effluent at 5μL/min", "DI water"], "range": ["#ff0000", "#ff00ff", "#0000ff", "#808000", "#800000", "#000000"]},
              "legend": null},
            "order": {"field": "wn", "sort": "descending"}
          }
        },
        {"data": {"values": [{}]}, "mark": {"type": "rule", "color": "black", "strokeWidth": 1.5}, "encoding": {"y": {"datum": 0.3}}},
        {"data": {"values": [{}]}, "mark": {"type": "rule", "color": "black", "strokeWidth": 1.5}, "encoding": {"x": {"datum": 1500}}},
        {"data": {"values": [{}]}, "mark": {"type": "rule", "color": "black", "strokeWidth": 1}, "encoding": {"x": {"datum": 2536}, "x2": {"datum": 2453}, "y": {"datum": 0.2914}, "y2": {"datum": 0.3084}}},
        {"data": {"values": [{}]}, "mark": {"type": "rule", "color": "black", "strokeWidth": 1}, "encoding": {"x": {"datum": 2536}, "x2": {"datum": 2453}, "y": {"datum": -0.0087}, "y2": {"datum": 0.0082}}}
      ]
    },
    {
      "width": 166,
      "height": 557,
      "view": {"stroke": "black", "strokeWidth": 1.5},
      "layer": [
        {
          "data": {"name": "inset"},
          "mark": {"type": "line", "strokeWidth": 2.8, "interpolate": "monotone"},
          "encoding": {
            "x": {"field": "wn", "type": "quantitative", "scale": {"domain": [2800, 3000], "reverse": true, "nice": false, "zero": false},
              "axis": {"values": [3000, 2800], "format": "d", "title": null, "domain": false, "tickSize": 8,
                "tickColor": {"condition": {"test": "datum.value == 3000", "value": "transparent"}, "value": "black"},
                "labelAlign": {"condition": {"test": "datum.value == 3000", "value": "left"}, "value": "center"},
                "labelPadding": {"condition": {"test": "datum.value == 3000", "value": 8}, "value": 13}}},
            "y": {"field": "abs", "type": "quantitative", "scale": {"domain": [0.005, 0.09], "nice": false, "zero": false}, "axis": null},
            "color": {"field": "series", "type": "nominal",
              "scale": {"domain": ["Sim-1.0wt%", "Sim-0.1wt%", "Sim-0.01wt%", "Effluent at 20μL/min", "Effluent at 5μL/min", "DI water"], "range": ["#ff0000", "#ff00ff", "#0000ff", "#808000", "#800000", "#000000"]},
              "legend": null},
            "order": {"field": "wn", "sort": "descending"}
          }
        },
        {"data": {"values": [{}]}, "mark": {"type": "rule", "color": "black", "strokeWidth": 1.2}, "encoding": {"x": {"datum": 2918}, "y": {"datum": 0.082}, "y2": {"datum": 0.0385}}},
        {"data": {"values": [{}]}, "mark": {"type": "rule", "color": "black", "strokeWidth": 1.2}, "encoding": {"x": {"datum": 2850}, "y": {"datum": 0.0706}, "y2": {"datum": 0.0305}}},
        {"data": {"values": [{}]}, "mark": {"type": "text", "text": "CH₂", "font": "DejaVu Serif", "fontWeight": "bold", "fontSize": 18, "align": "center", "baseline": "alphabetic", "color": "black"}, "encoding": {"x": {"datum": 2903.5}, "y": {"datum": 0.0866}}},
        {"data": {"values": [{}]}, "mark": {"type": "text", "text": "stretching", "font": "DejaVu Serif", "fontWeight": "bold", "fontSize": 17.5, "align": "center", "baseline": "alphabetic", "color": "black"}, "encoding": {"x": {"datum": 2903.5}, "y": {"datum": 0.0833}}},
        {"data": {"values": [{}]}, "mark": {"type": "text", "text": "C-H", "font": "DejaVu Serif", "fontWeight": "bold", "fontSize": 18, "align": "center", "baseline": "alphabetic", "color": "black"}, "encoding": {"x": {"datum": 2853.3}, "y": {"datum": 0.0766}}},
        {"data": {"values": [{}]}, "mark": {"type": "text", "text": "stretching", "font": "DejaVu Serif", "fontWeight": "bold", "fontSize": 17.5, "align": "center", "baseline": "alphabetic", "color": "black"}, "encoding": {"x": {"datum": 2853.3}, "y": {"datum": 0.0731}}}
      ]
    }
  ]
}
